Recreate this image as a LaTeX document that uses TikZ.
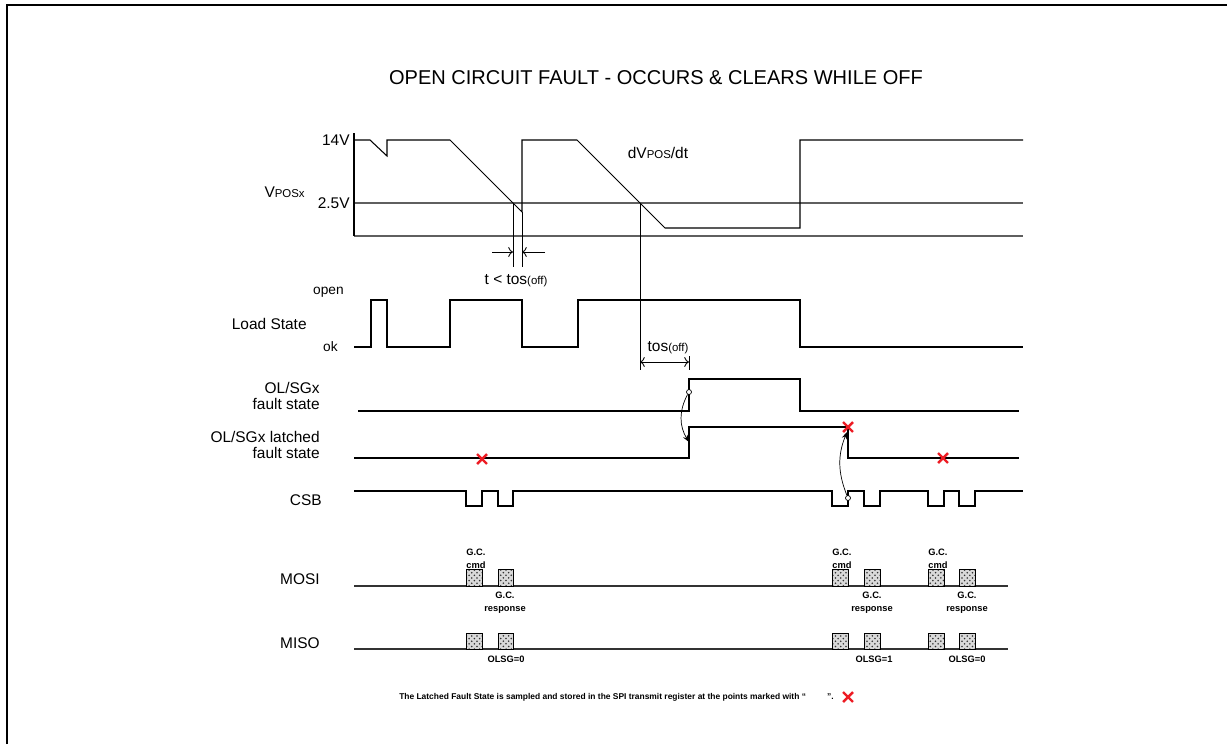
\documentclass[tikz,border=0pt]{standalone}
\usepackage{fontspec}
\setmainfont{Liberation Sans}
\usepackage{tikz}
\usetikzlibrary{arrows.meta,patterns,shapes.misc}
\definecolor[named]{myColorMark}{RGB}{237,28,36}
\definecolor[named]{myColorLevel}{RGB}{95,95,95}

\begin{document}
\begin{tikzpicture}
[%
    x=0.02cm, y=-0.02cm,
    wave/.style={
      line width=0.6pt,
      line join=miter
    },
    level/.style={
      myColorLevel,
      line width=0.8pt
    },
    sig/.style={
      font=\fontsize{8.8}{9.6}\selectfont,
      anchor=east,
      align=right,
      inner sep=0pt
    },
    tag/.style={
      font=\fontsize{5.3}{7.4}\selectfont\bfseries,
      inner sep=0pt
    },
    packet/.style={
      draw,
      line width=0.5pt,
      preaction={fill=gray!30},
      pattern=crosshatch dots,
      pattern color=black!80
    },
    faultmark/.style={
      cross out,
      draw=myColorMark,
      line width=1.4pt,
      minimum size=0.15cm,
      inner sep=0pt
    },
    probe/.style={
      circle,
      draw,
      fill=white,
      line width=0.4pt,
      minimum size=0.1cm,
      inner sep=0pt
    },
    dim/.style={
      line width=0.5pt
    }
  ]
  \useasboundingbox (0,0) rectangle (1227,744);
  \draw[line width=1.2pt] (7,744) -- (7,5) -- (1227,5);

  %Title
  \node[font=\fontsize{11.4}{13}\selectfont] (title) at (656,78) {OPEN CIRCUIT FAULT - OCCURS \& CLEARS WHILE OFF};

  %VPOS
  \node[sig] (vpos) at (305,192) {V{\fontsize{6.5}{7}\selectfont POSx}};
  \node[sig] (v14) at (350,140) {14V};
  \node[sig] (v25) at (350,203) {2.5V};
  \node[font=\fontsize{8.8}{9.6}\selectfont, inner sep=0pt] (slope) at (658,153) {dV{\fontsize{6.5}{7}\selectfont POS}/dt};
  \draw[level] (354,203) -- (1023,203);
  \draw[level] (354,236) -- (1023,236);
  \draw[wave] (354,133) -- (354,236);
  \draw[wave] (354,140) -- (370,140) -- (387,156) -- (387,140) -- (450,140) -- (522,212) -- (522,140)
    -- (577,140) -- (665,228) -- (800,228) -- (800,140) -- (1023,140);

  \coordinate (tA) at (513,252);
  \coordinate (tB) at (522,252);
  \coordinate (tAout) at (492,252);
  \coordinate (tBout) at (545,252);
  \draw[dim] (513,203) -- (513,267);
  \draw[dim] (522,212) -- (522,267);
  \draw[dim,->] (tAout) -- (tA);
  \draw[dim,->] (tBout) -- (tB);
  \node[font=\fontsize{8.8}{9.6}\selectfont, inner sep=0pt] (tlim) at (516,281) {t < tos{\fontsize{6.5}{7}\selectfont(off)}};

  %Load State
  \node[sig] (ldst) at (307,324) {Load State};
  \node[sig, font=\fontsize{7.8}{9}\selectfont] (open) at (344,292) {open};
  \node[sig, font=\fontsize{7.8}{9}\selectfont] (ok) at (338,347) {ok};
  \draw[wave] (354,347) -- (371,347) -- (371,300) -- (387,300) -- (387,347) -- (450,347) -- (450,300)
    -- (522,300) -- (522,347) -- (578,347) -- (578,300) -- (800,300) -- (800,347) -- (1023,347);

  \coordinate (tosA) at (640,362);
  \coordinate (tosB) at (689,362);
  \draw[dim] (640,203) -- (640,370);
  \draw[dim] (689,356) -- (689,370);
  \draw[dim,<->] (tosA) -- (tosB);
  \node[font=\fontsize{8.8}{9.6}\selectfont, inner sep=0pt] (tos) at (668,348) {tos{\fontsize{6.5}{7}\selectfont(off)}};

  %OL/SGx fault state
  \node[sig] (olsg) at (320,396) {OL/SGx\\fault state};
  \draw[wave] (358,411) -- (689,411) -- (689,379) -- (800,379) -- (800,411) -- (1019,411);

  %OL/SGx latched fault state
  \node[sig] (olsgl) at (320,445) {OL/SGx latched\\fault state};
  \draw[wave] (354,458) -- (689,458) -- (689,427) -- (848,427) -- (848,458) -- (1019,458);
  \node[faultmark] (x1) at (482,459) {};
  \node[faultmark] (x2) at (848,427) {};
  \node[faultmark] (x3) at (943,458) {};

  \node[probe] (probeA) at (689,392) {};
  \coordinate (latchA) at (689,442);
  \draw[line width=0.4pt,-{Stealth[length=4pt,width=3pt]}] (probeA) to[bend right=30] (latchA);

  %CSB
  \node[sig] (csb) at (322,500) {CSB};
  \draw[wave] (354,491) -- (466,491) -- (466,506) -- (482,506) -- (482,491) -- (498,491) -- (498,506)
    -- (513,506) -- (513,491) -- (832,491) -- (832,506) -- (848,506) -- (848,491) -- (864,491)
    -- (864,506) -- (880,506) -- (880,491) -- (928,491) -- (928,506) -- (944,506) -- (944,491)
    -- (959,491) -- (959,506) -- (975,506) -- (975,491) -- (1023,491);

  \node[probe] (probeB) at (848,498) {};
  \coordinate (latchB) at (847,432);
  \draw[line width=0.4pt,-{Stealth[length=4pt,width=3pt]}] (probeB) to[bend left=22] (latchB);

  %MOSI
  \node[sig] (mosi) at (320,579) {MOSI};
  \draw[level, black!80, line width=0.6pt] (354,586) -- (1008,586);
  \draw[packet] (466,569) rectangle (482,586);
  \draw[packet] (498,569) rectangle (513,586);
  \draw[packet] (832,569) rectangle (848,586);
  \draw[packet] (864,569) rectangle (880,586);
  \draw[packet] (928,569) rectangle (944,586);
  \draw[packet] (959,569) rectangle (975,586);
  \node[tag, anchor=south west, align=left] (cmdA) at (466,569) {G.C.\\cmd};
  \node[tag, anchor=south west, align=left] (cmdB) at (832,569) {G.C.\\cmd};
  \node[tag, anchor=south west, align=left] (cmdC) at (928,569) {G.C.\\cmd};
  \node[tag, anchor=north, align=center] (rspA) at (505,592) {G.C.\\response};
  \node[tag, anchor=north, align=center] (rspB) at (872,592) {G.C.\\response};
  \node[tag, anchor=north, align=center] (rspC) at (967,592) {G.C.\\response};

  %MISO
  \node[sig] (miso) at (320,643) {MISO};
  \draw[level, black!80, line width=0.6pt] (354,649) -- (1008,649);
  \draw[packet] (466,633) rectangle (482,649);
  \draw[packet] (498,633) rectangle (513,649);
  \draw[packet] (832,633) rectangle (848,649);
  \draw[packet] (864,633) rectangle (880,649);
  \draw[packet] (928,633) rectangle (944,649);
  \draw[packet] (959,633) rectangle (975,649);
  \node[tag] (olsgA) at (506,659) {OLSG=0};
  \node[tag] (olsgB) at (874,659) {OLSG=1};
  \node[tag] (olsgC) at (967,659) {OLSG=0};

  %Note
  \node[font=\fontsize{4.8}{5.5}\selectfont\bfseries, anchor=east, inner sep=0pt] (note) at (834,697)
    {The Latched Fault State is sampled and stored in the SPI transmit register at the points marked with “\hspace{12pt}”.};
  \node[faultmark] (x4) at (848,697) {};
\end{tikzpicture}
\end{document}
